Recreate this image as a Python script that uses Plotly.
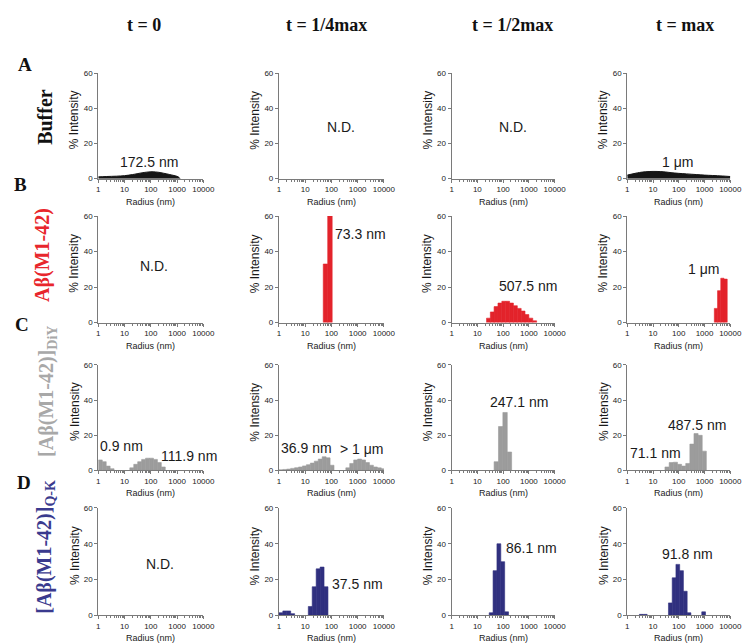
import numpy as np
import plotly.graph_objects as go

W, H = 750, 643

# ---------------- text / ticks ----------------
col_titles = ["t = 0", "t = 1/4max", "t = 1/2max", "t = max"]
row_letters = ["A", "B", "C", "D"]
row_labels = ["Buffer", "Aβ(M1-42)", "[Aβ(M1-42)]<sub>DiY</sub>", "[Aβ(M1-42)]<sub>Q-K</sub>"]
x_tick_vals = [1, 10, 100, 1000, 10000]
x_tick_text = ["1", "10", "100", "1000", "10000"]
y_tick_vals = [0, 20, 40, 60]
y_title = "% Intensity"
x_title = "Radius (nm)"

# ---------------- data (radius in nm, % intensity) ----------------
# Row A: buffer (smooth distributions)
a1_r = [1, 2, 5, 10, 20, 30, 50, 70, 100, 150, 200, 300, 500, 700, 1000, 1200, 1300]
a1_i = [1.0, 1.2, 1.4, 1.7, 2.3, 2.8, 3.4, 3.7, 3.9, 3.8, 3.6, 3.1, 2.4, 1.9, 1.3, 0.6, 0.0]
a4_r = [1, 2, 3, 5, 10, 20, 30, 50, 100, 200, 500, 1000, 2000, 5000, 10000]
a4_i = [2.0, 3.0, 3.5, 3.9, 4.1, 4.0, 3.8, 3.4, 3.0, 2.7, 2.3, 2.0, 1.8, 1.5, 1.2]

# Row B: Abeta(M1-42)
b2_r = [59.6, 88.1]
b2_i = [33, 60]
b3_r = [27, 38, 53, 75, 106, 150, 211, 299, 422, 596, 841, 1189, 1679]
b3_i = [2.5, 6, 9, 11, 12, 12, 11, 9.5, 8, 6.5, 4.5, 2.5, 1.0]
b4_r = [2770, 3694, 4927, 6570]
b4_i = [8, 18, 25, 24.5]

# Row C: [Abeta(M1-42)]DiY
c1_r = [1.19, 1.68, 2.37, 3.35, 18.8, 26.6, 37.6, 53, 75, 106, 150, 211, 299]
c1_i = [6, 5, 2.5, 1, 1.5, 3.5, 5, 6.3, 7, 7, 6.3, 4.5, 2]
c2_r = [1.19, 1.68, 2.37, 3.35, 4.73, 6.68, 9.44, 13.3, 18.8, 26.6, 37.6, 53, 75, 106,
        422, 596, 841, 1189, 1679, 2371, 3350, 4732, 6683, 9441]
c2_i = [0.4, 0.6, 0.8, 1.2, 1.6, 2.0, 2.6, 3.3, 4.2, 5.3, 6.5, 7.8, 7.2, 3.0,
        1.5, 4, 6, 6.5, 6, 4.5, 3, 2, 1.5, 1]
c3_r = [54.3, 80.4, 118.9, 175.8]
c3_i = [5, 25, 33, 10.5]
c4_r = [35, 51, 74, 107, 155, 224, 324, 468, 676, 977]
c4_i = [2, 4.5, 4.7, 3.5, 2.5, 4, 15, 21, 20, 11]

# Row D: [Abeta(M1-42)]Q-K
d2_r = [1.19, 1.68, 2.37, 3.35, 15.7, 22.1, 31.3, 44.2, 62.4]
d2_i = [1.5, 2.5, 2.5, 1, 5, 16, 26, 27, 16]
d3_r = [34.3, 48.4, 68.4, 96.6, 136.5]
d3_i = [1.5, 25, 40, 30, 2]
d4_r = [3.5, 5.0, 47, 65.7, 91.7, 128, 179, 250, 923]
d4_i = [0.6, 0.6, 7, 21, 28.5, 25, 13.5, 1.5, 2]

# ---------------- styles ----------------
BLACK = "#151515"
RED = "#e3232b"
GRAY = "#9c9c9c"
NAVY = "#30307f"
row_label_colors = ["#111111", "#e8262c", "#a8a8a8", "#3a3a8e"]
AXIS_COL = "#7a7a7a"
SANS = "Liberation Sans, Arial, sans-serif"
SERIF = "Liberation Serif, Times New Roman, serif"

col_px = [(90, 197), (274, 381), (450, 555), (629, 734)]
row_px = [(62, 169), (207, 315), (358, 465), (503, 612)]

# (row, col, kind, radii, intensities, bar width in decades, colour, labels)
panels = [
    (0, 0, "area", a1_r, a1_i, None, BLACK, [("172.5 nm", 0.485, 0.16)]),
    (0, 1, None, None, None, None, None, [("N.D.", 0.59, 0.485)]),
    (0, 2, None, None, None, None, None, [("N.D.", 0.60, 0.485)]),
    (0, 3, "area", a4_r, a4_i, None, BLACK, [("1 μm", 0.485, 0.16)]),
    (1, 0, None, None, None, None, None, [("N.D.", 0.53, 0.53)]),
    (1, 1, "bar", b2_r, b2_i, 0.17, RED, [("73.3 nm", 0.775, 0.83)]),
    (1, 2, "bar", b3_r, b3_i, 0.15, RED, [("507.5 nm", 0.74, 0.34)]),
    (1, 3, "bar", b4_r, b4_i, 0.125, RED, [("1 μm", 0.74, 0.50)]),
    (2, 0, "bar", c1_r, c1_i, 0.15, GRAY, [("0.9 nm", 0.22, 0.23), ("111.9 nm", 0.86, 0.14)]),
    (2, 1, "bar", c2_r, c2_i, 0.15, GRAY, [("36.9 nm", 0.26, 0.21), ("> 1 μm", 0.785, 0.20)]),
    (2, 2, "bar", c3_r, c3_i, 0.17, GRAY, [("247.1 nm", 0.65, 0.65)]),
    (2, 3, "bar", c4_r, c4_i, 0.16, GRAY, [("487.5 nm", 0.675, 0.43), ("71.1 nm", 0.275, 0.17)]),
    (3, 0, None, None, None, None, None, [("N.D.", 0.59, 0.48)]),
    (3, 1, "bar", d2_r, d2_i, 0.15, NAVY, [("37.5 nm", 0.75, 0.29)]),
    (3, 2, "bar", d3_r, d3_i, 0.15, NAVY, [("86.1 nm", 0.78, 0.625)]),
    (3, 3, "bar", d4_r, d4_i, 0.145, NAVY, [("91.8 nm", 0.58, 0.57)]),
]

minor_vals = [m * 10 ** k for k in range(4) for m in range(2, 10)]

fig = go.Figure()
annotations = []
layout = dict(
    width=W, height=H,
    margin=dict(l=0, r=0, t=0, b=0),
    paper_bgcolor="white", plot_bgcolor="white",
    showlegend=False,
    barmode="overlay",
)

for (r, c, kind, rad, inten, bw, color, labels) in panels:
    k = r * 4 + c + 1
    xs = "" if k == 1 else str(k)
    xref, yref = "x" + xs, "y" + xs
    x0, x1 = col_px[c]
    y0, y1 = row_px[r]
    layout["xaxis" + xs] = dict(
        type="log", range=[0, 4], domain=[x0 / W, x1 / W], anchor=yref,
        tickmode="array", tickvals=x_tick_vals, ticktext=x_tick_text,
        ticks="outside", ticklen=3, tickwidth=1, tickcolor=AXIS_COL,
        showline=True, linecolor=AXIS_COL, linewidth=1,
        showgrid=False, zeroline=False,
        tickfont=dict(family=SANS, size=8, color="#222"),
        minor=dict(tickmode="array", tickvals=minor_vals, ticks="outside",
                   ticklen=2, tickcolor=AXIS_COL, showgrid=False),
    )
    layout["yaxis" + xs] = dict(
        range=[0, 60], domain=[1 - y1 / H, 1 - y0 / H], anchor=xref,
        tickmode="array", tickvals=y_tick_vals,
        ticks="outside", ticklen=3, tickwidth=1, tickcolor=AXIS_COL,
        showline=True, linecolor=AXIS_COL, linewidth=1,
        showgrid=False, zeroline=False,
        tickfont=dict(family=SANS, size=8, color="#222"),
    )
    if kind == "area":
        fig.add_trace(go.Scatter(
            x=rad, y=inten, xaxis=xref, yaxis=yref, mode="lines",
            line=dict(color=color, width=1, shape="spline"),
            fill="tozeroy", fillcolor=color, hoverinfo="skip"))
    elif kind == "bar":
        rad_a = np.asarray(rad, dtype=float)
        lo = rad_a * 10 ** (-bw / 2)
        hi = rad_a * 10 ** (bw / 2)
        fig.add_trace(go.Bar(
            x=lo, y=inten, width=hi - lo, offset=0,
            xaxis=xref, yaxis=yref,
            marker=dict(color=color, line=dict(width=0.6, color=color)),
            hoverinfo="skip"))
    else:
        # empty trace so that the (N.D.) subplot axes are drawn
        fig.add_trace(go.Scatter(x=[], y=[], xaxis=xref, yaxis=yref,
                                 mode="lines", hoverinfo="skip"))
    for (txt, fx, fy) in labels:
        annotations.append(dict(
            text=txt, xref=xref + " domain", yref=yref + " domain", x=fx, y=fy,
            xanchor="center", yanchor="middle", showarrow=False,
            font=dict(family=SANS, size=14, color="#1a1a1a")))
    # axis titles
    annotations.append(dict(
        text=y_title, xref=xref + " domain", yref=yref + " domain", x=0, y=0.5,
        xshift=-24, yshift=6, textangle=-90, xanchor="center", yanchor="middle",
        showarrow=False, font=dict(family=SANS, size=12, color="#1a1a1a")))
    annotations.append(dict(
        text=x_title, xref=xref + " domain", yref=yref + " domain", x=0.5, y=0,
        yshift=-23, xanchor="center", yanchor="middle",
        showarrow=False, font=dict(family=SANS, size=9, color="#1a1a1a")))

# column titles
col_title_px = [137, 323, 512, 688]
for t, px in zip(col_titles, col_title_px):
    annotations.append(dict(
        text="<b>" + t + "</b>", xref="paper", yref="paper", x=px / W, y=1 - 13 / H,
        xanchor="center", yanchor="middle", showarrow=False,
        font=dict(family=SERIF, size=18, color="#111")))

# row letters
letter_px = [(15, 53), (11, 175), (12, 317), (14, 477)]
for t, (px, py) in zip(row_letters, letter_px):
    annotations.append(dict(
        text="<b>" + t + "</b>", xref="paper", yref="paper", x=px / W, y=1 - py / H,
        xanchor="center", yanchor="middle", showarrow=False,
        font=dict(family=SERIF, size=19, color="#111")))

# row labels (rotated)
label_px = [(35, 106), (33, 246), (38, 385), (36, 542)]
for t, (px, py), col in zip(row_labels, label_px, row_label_colors):
    annotations.append(dict(
        text="<b>" + t + "</b>", xref="paper", yref="paper", x=px / W, y=1 - py / H,
        xanchor="center", yanchor="middle", showarrow=False, textangle=-90,
        font=dict(family=SERIF, size=20, color=col)))

layout["annotations"] = annotations
fig.update_layout(**layout)
fig.write_html("out.html")
